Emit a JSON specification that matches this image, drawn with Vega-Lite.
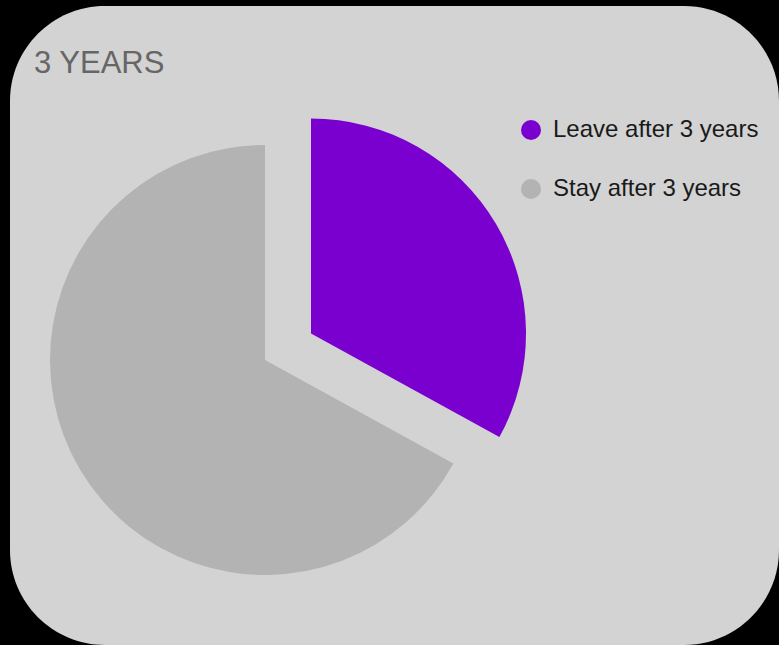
{
  "$schema": "https://vega.github.io/schema/vega-lite/v6.json",
  "width": 769,
  "height": 639,
  "autosize": {"type": "none"},
  "padding": {"left": 10, "top": 6, "right": 0, "bottom": 0},
  "background": "black",
  "view": {"fill": "#d3d3d3", "stroke": null, "cornerRadius": 95},
  "config": {
    "view": {"fill": "#d3d3d3", "stroke": null, "cornerRadius": 95},
    "font": "Liberation Sans"
  },
  "title": {
    "text": "3 YEARS",
    "anchor": "start",
    "frame": "group",
    "dx": 24,
    "dy": 74,
    "offset": 0,
    "fontSize": 31,
    "fontWeight": "normal",
    "color": "#666666",
    "font": "Liberation Sans"
  },
  "data": {
    "values": [
      {"category": "Leave after 3 years", "value": 33},
      {"category": "Stay after 3 years", "value": 67}
    ]
  },
  "transform": [
    {"stack": "value", "as": ["v0", "v1"], "groupby": [], "sort": [{"field": "category", "order": "ascending"}]}
  ],
  "encoding": {
    "theta": {"field": "v0", "type": "quantitative", "scale": {"domain": [0, 100]}},
    "theta2": {"field": "v1"},
    "color": {
      "field": "category",
      "type": "nominal",
      "scale": {"domain": ["Leave after 3 years", "Stay after 3 years"], "range": ["#7a00cf", "#b3b3b3"]},
      "legend": {
        "orient": "none",
        "legendX": 509,
        "legendY": 112,
        "title": null,
        "padding": 0,
        "labelFontSize": 24,
        "labelColor": "#1a1a1a",
        "labelFont": "Liberation Sans",
        "labelLimit": 400,
        "symbolSize": 400,
        "symbolType": "circle",
        "symbolStrokeWidth": 0,
        "rowPadding": 35,
        "labelOffset": 10
      }
    }
  },
  "layer": [
    {
      "transform": [{"filter": "datum.category === 'Stay after 3 years'"}],
      "mark": {"type": "arc", "radius": 215, "xOffset": -129.5, "yOffset": 34.5}
    },
    {
      "transform": [{"filter": "datum.category === 'Leave after 3 years'"}],
      "mark": {"type": "arc", "radius": 215, "xOffset": -83.5, "yOffset": 8}
    }
  ]
}
